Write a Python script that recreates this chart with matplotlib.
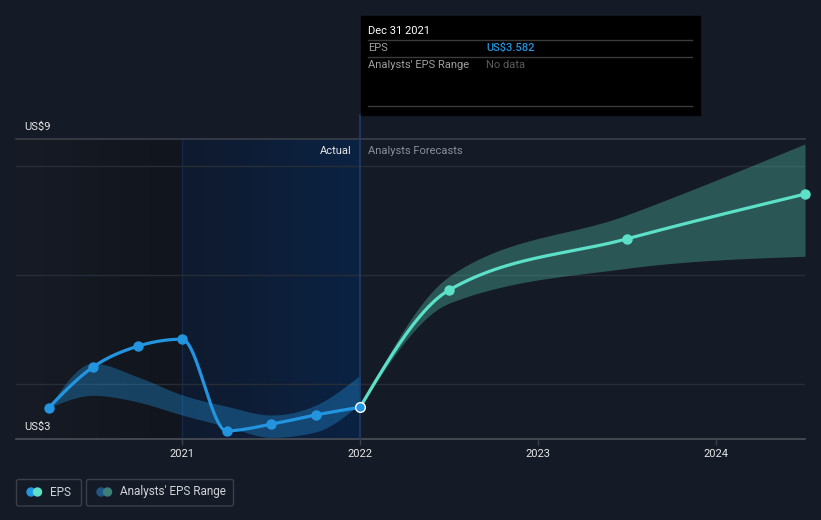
import numpy as np
import matplotlib
matplotlib.use('Agg')
import matplotlib.pyplot as plt
from matplotlib.patches import Rectangle, FancyBboxPatch, Circle

plt.rcParams['font.family'] = ['Roboto', 'DejaVu Sans']

# dados (anos decimais)
eps_datas = [2020.25, 2020.5, 2020.75, 2021.0, 2021.25, 2021.5, 2021.75, 2022.0]
eps_valores = [3.57, 4.32, 4.70, 4.83, 3.15, 3.27, 3.44, 3.582]

faixa_passada_datas = [2020.25, 2020.5, 2020.75, 2021.0, 2021.25, 2021.5, 2021.75, 2022.0]
faixa_passada_min = [3.57, 3.80, 3.68, 3.44, 3.23, 3.03, 3.13, 3.65]
faixa_passada_max = [3.57, 4.39, 4.14, 3.81, 3.60, 3.44, 3.62, 4.17]

prev_datas = [2022.0, 2022.5, 2023.5, 2024.5]
prev_valores = [3.582, 5.73, 6.67, 7.49]
prev_min = [3.582, 5.49, 6.13, 6.35]
prev_max = [3.582, 5.98, 7.11, 8.41]

anos_ticks = [2021, 2022, 2023, 2024]
linhas_grade = [4, 6, 8]

FUNDO = '#151b26'
AZUL = '#2394df'
TURQUESA = '#5de0c8'


def curva_monotona(xs, ys, n=80):
    # interpolacao monotona (estilo d3 curveMonotoneX) so para desenhar a linha
    xs = np.asarray(xs, float)
    ys = np.asarray(ys, float)
    h = np.diff(xs)
    s = np.diff(ys) / h
    m = np.zeros(len(xs))
    for i in range(1, len(xs) - 1):
        p = (s[i - 1] * h[i] + s[i] * h[i - 1]) / (h[i - 1] + h[i])
        m[i] = (np.sign(s[i - 1]) + np.sign(s[i])) * min(abs(s[i - 1]), abs(s[i]), 0.5 * abs(p))
    if len(xs) > 2:
        m[0] = (3 * s[0] - m[1]) / 2
        m[-1] = (3 * s[-1] - m[-2]) / 2
    else:
        m[:] = s[0]
    px, py = [], []
    t = np.linspace(0, 1, n)
    for i in range(len(h)):
        h00 = 2 * t**3 - 3 * t**2 + 1
        h10 = t**3 - 2 * t**2 + t
        h01 = -2 * t**3 + 3 * t**2
        h11 = t**3 - t**2
        y = h00 * ys[i] + h10 * h[i] * m[i] + h01 * ys[i + 1] + h11 * h[i] * m[i + 1]
        px.append(xs[i] + t * h[i])
        py.append(y)
    return np.concatenate(px), np.concatenate(py)


def gradiente(ax, x0, x1, y0, y1, cor_ini, cor_fim, z):
    n = 256
    c0 = np.array(matplotlib.colors.to_rgba(cor_ini))
    c1 = np.array(matplotlib.colors.to_rgba(cor_fim))
    f = np.linspace(0, 1, n)[None, :, None]
    img = c0[None, None, :] * (1 - f) + c1[None, None, :] * f
    ax.imshow(img, extent=[x0, x1, y0, y1], aspect='auto', zorder=z, interpolation='bilinear')


fig = plt.figure(figsize=(8.21, 5.2), dpi=100, facecolor=FUNDO)
W, H = 821, 520
x_esq, x_dir, y_topo, y_base = 16, 805, 139, 439
ax = fig.add_axes([x_esq / W, (H - y_base) / H, (x_dir - x_esq) / W, (y_base - y_topo) / H])
ax.set_facecolor(FUNDO)

xmin, xmax = 2020.067, 2024.5
ymin, ymax = 3.0, 8.5

# fundos
gradiente(ax, xmin, 2021.0, ymin, ymax, '#161b25', '#11151d', 0)
gradiente(ax, 2021.0, 2022.0, ymin, ymax, '#0f1a2d', '#0b2243', 0)
ax.axvline(2021.0, color='#15294a', lw=1, zorder=1)

for g in linhas_grade:
    ax.axhline(g, color='#272d37', lw=1, zorder=1)
ax.axhline(ymax, color='#3a3f48', lw=1.2, zorder=1, clip_on=False)

# faixa dos analistas (passado)
bx, bmin = curva_monotona(faixa_passada_datas, faixa_passada_min)
_, bmax = curva_monotona(faixa_passada_datas, faixa_passada_max)
ax.fill_between(bx, bmin, bmax, color=AZUL, alpha=0.35, lw=0, zorder=2)

# faixa prevista
fx, fmin = curva_monotona(prev_datas, prev_min)
_, fmax = curva_monotona(prev_datas, prev_max)
ax.fill_between(fx, fmin, fmax, color=TURQUESA, alpha=0.3, lw=0, zorder=2)

# linha de hover
ax.axvline(2022.0, color='#1d3d6b', lw=1.2, zorder=3, ymax=1.08, clip_on=False)

# EPS real
lx, ly = curva_monotona(eps_datas, eps_valores)
ax.plot(lx, ly, color=AZUL, lw=2.3, zorder=4, solid_capstyle='round')
ax.plot(eps_datas[:-1], eps_valores[:-1], 'o', color=AZUL, ms=6.5, zorder=5)

# EPS previsto
px, py = curva_monotona(prev_datas, prev_valores)
ax.plot(px, py, color=TURQUESA, lw=2.3, zorder=4, solid_capstyle='round')
ax.plot(prev_datas[1:], prev_valores[1:], 'o', color=TURQUESA, ms=6.5, zorder=5, clip_on=False)
ax.plot(eps_datas[-1], eps_valores[-1], 'o', color=AZUL, ms=7, mec='white', mew=1, zorder=6)

ax.set_xlim(xmin, xmax)
ax.set_ylim(ymin, ymax)
ax.set_yticks([])
ax.set_xticks(anos_ticks)
ax.set_xticklabels([str(a) for a in anos_ticks], color='#e6e6e6', fontsize=8)
ax.tick_params(axis='x', length=4, color='#3a3f48', pad=3, width=1)
for lado in ['top', 'left', 'right']:
    ax.spines[lado].set_visible(False)
ax.spines['bottom'].set_color('#4a4f58')
ax.spines['bottom'].set_linewidth(1.2)

# camada em pixels para textos, tooltip e legenda
ov = fig.add_axes([0, 0, 1, 1], facecolor='none')
ov.set_xlim(0, W)
ov.set_ylim(H, 0)
ov.axis('off')

ov.text(24, 127, 'US$9', color='#e6e6e6', fontsize=8, va='center')
ov.text(24, 427, 'US$3', color='#e6e6e6', fontsize=8, va='center')
ov.text(352, 151, 'Actual', color='#e6e6e6', fontsize=8, va='center', ha='right')
ov.text(368, 151, 'Analysts Forecasts', color='#8a8f98', fontsize=8, va='center')

# tooltip
ov.add_patch(Rectangle((361, 16), 339, 99, color='black', zorder=5))
for yl in [40, 57, 106]:
    ov.plot([368, 692], [yl, yl], color='#3a3a3a', lw=1, zorder=6)
ov.text(368, 31, 'Dec 31 2021', color='white', fontsize=8, va='center', zorder=7)
ov.text(368, 48, 'EPS', color='#a0a0a0', fontsize=8, va='center', zorder=7)
ov.text(486, 48, 'US$3.582', color=AZUL, fontsize=8, va='center', zorder=7, weight='medium')
ov.text(368, 65, "Analysts' EPS Range", color='#a0a0a0', fontsize=8, va='center', zorder=7)
ov.text(486, 65, 'No data', color='#5a5a5a', fontsize=8, va='center', zorder=7)

# legenda
for (x0, x1) in [(16.5, 81.5), (86.5, 233.5)]:
    ov.add_patch(FancyBboxPatch((x0, 479.5), x1 - x0, 26.5, boxstyle='round,pad=0,rounding_size=2',
                                fc='none', ec='#3a404a', lw=1))
ov.add_patch(Circle((31, 492), 4, color=AZUL, zorder=3))
ov.add_patch(Circle((37.5, 492), 4, color=TURQUESA, zorder=4))
ov.text(50, 492, 'EPS', color='#d0d3d8', fontsize=8.5, va='center')
ov.add_patch(Circle((101, 492), 4, color='#1e5686', zorder=3))
ov.add_patch(Circle((107.5, 492), 4, color='#3c7f78', zorder=4))
ov.text(120, 492, "Analysts' EPS Range", color='#d0d3d8', fontsize=8.5, va='center')

fig.savefig('out.png', dpi=100, facecolor=FUNDO)
